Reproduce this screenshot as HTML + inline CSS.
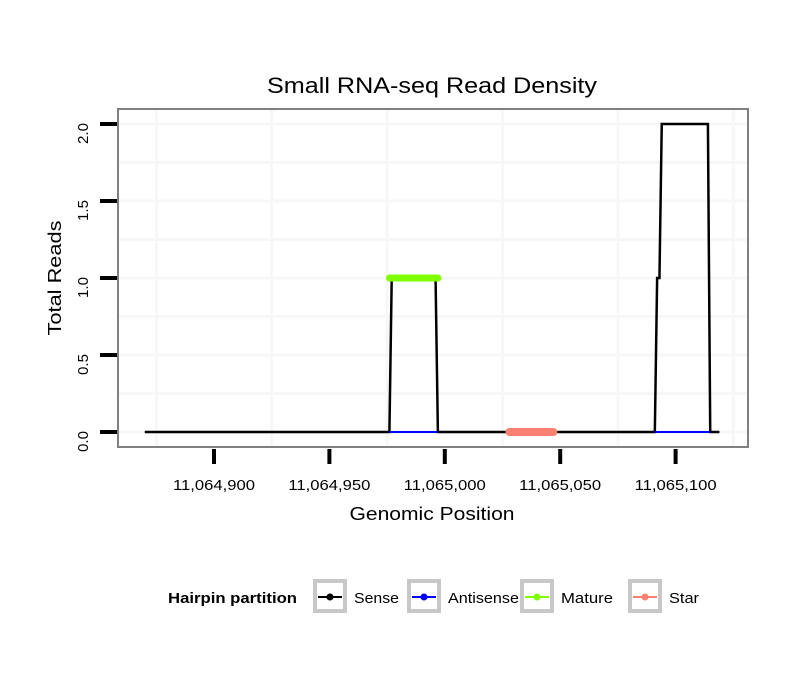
<!DOCTYPE html>
<html><head><meta charset="utf-8"><style>
body{margin:0;background:#fff;}
text{font-family:"Liberation Sans",sans-serif;}
</style></head><body>
<svg id="c" width="810" height="690" xmlns="http://www.w3.org/2000/svg"></svg>
<script>
const xTicks=[11064900,11064950,11065000,11065050,11065100];
const xTickLabels=["11,064,900","11,064,950","11,065,000","11,065,050","11,065,100"];
const yTicks=[0,0.5,1,1.5,2];
const yTickLabels=["0.0","0.5","1.0","1.5","2.0"];
const sensePos=[11064870,11064976,11064977,11064996,11064997,11065091,11065092,11065093,11065094,11065114,11065115,11065119];
const senseVal=[0,0,1,1,0,0,1,1,2,2,0,0];
const antiSegStart=[11064976,11065091];
const antiSegEnd=[11064997,11065115];
const matureStart=[11064976];const matureEnd=[11064997];const matureVal=[1];
const starStart=[11065028];const starEnd=[11065047];const starVal=[0];
const X=p=>214+(p-11064900)*2.308;
const Y=v=>432-v*154;
const svg=document.getElementById('c');const NS="http://www.w3.org/2000/svg";
function mk(t,a,name,p){const e=document.createElementNS(NS,t);for(const k in a)e.setAttribute(k,a[k]);


(p||svg).appendChild(e);return e;}
const LA='spacingAndGlyphs';
mk('rect',{x:117,y:108,width:632,height:340,fill:'#fff'},'plot-panel');
for(let p=11064875;p<=11065125;p+=50){mk('line',{x1:X(p),x2:X(p),y1:109,y2:447,stroke:'#f7f7f7','stroke-width':3},'grid-x');}
for(let v=-0.25;v<=2.25;v+=0.25){const y=Y(v);if(y<109||y>447)continue;mk('line',{x1:118,x2:748,y1:y,y2:y,stroke:'#f7f7f7','stroke-width':3},'grid-y');}
let d=sensePos.map((p,i)=>(i?'L':'M')+X(p)+','+Y(senseVal[i])).join('');
mk('path',{d:d,fill:'none',stroke:'#000','stroke-width':2.5},'sense-line');
antiSegStart.forEach((s,i)=>mk('line',{x1:X(s),x2:X(antiSegEnd[i]),y1:Y(0),y2:Y(0),stroke:'#0000ff','stroke-width':2},'antisense-line'));
matureStart.forEach((s,i)=>mk('line',{x1:X(s),x2:X(matureEnd[i]),y1:Y(matureVal[i]),y2:Y(matureVal[i]),stroke:'#7fff00','stroke-width':7,'stroke-linecap':'round'},'mature-segment'));
starStart.forEach((s,i)=>mk('line',{x1:X(s),x2:X(starEnd[i]),y1:Y(starVal[i]),y2:Y(starVal[i]),stroke:'#fa8072','stroke-width':8,'stroke-linecap':'round'},'star-segment'));
mk('rect',{x:118,y:109,width:630,height:338,fill:'none',stroke:'#808080','stroke-width':2},'panel-border');
xTicks.forEach((p,i)=>{mk('line',{x1:X(p),x2:X(p),y1:449,y2:464,stroke:'#000','stroke-width':4},'x-tick');
const t=mk('text',{x:X(p),y:490,'text-anchor':'middle','font-size':14.5,textLength:82,lengthAdjust:LA},'x-tick-label');t.textContent=xTickLabels[i];});
yTicks.forEach((v,i)=>{mk('line',{x1:100,x2:117,y1:Y(v),y2:Y(v),stroke:'#000','stroke-width':4},'y-tick');
const t=mk('text',{x:0,y:0,'text-anchor':'end','font-size':14.5,textLength:21,lengthAdjust:LA,transform:`translate(88,${Y(v)-1}) rotate(-90)`},'y-tick-label');t.textContent=yTickLabels[i];});
let t=mk('text',{x:432,y:93,'text-anchor':'middle','font-size':22,textLength:330,lengthAdjust:LA},'chart-title');t.textContent='Small RNA-seq Read Density';
t=mk('text',{x:432,y:520,'text-anchor':'middle','font-size':18.5,textLength:165,lengthAdjust:LA},'x-axis-title');t.textContent='Genomic Position';
t=mk('text',{x:0,y:0,'text-anchor':'middle','font-size':18.5,textLength:115,lengthAdjust:LA,transform:'translate(61,278) rotate(-90)'},'y-axis-title');t.textContent='Total Reads';
t=mk('text',{x:168,y:603,'font-size':14.5,'font-weight':'bold',textLength:129,lengthAdjust:LA},'legend-title');t.textContent='Hairpin partition';
const legNames=['Sense','Antisense','Mature','Star'];const legCols=['#000','#0000ff','#7fff00','#fa8072'];const legX=[315,409,522,630];const legW=[45,71,52,30];
legNames.forEach((n,i)=>{const g=mk('g',{},'legend-entry-'+n.toLowerCase());
mk('rect',{x:legX[i],y:581,width:30,height:30,fill:'#fff',stroke:'#c8c8c8','stroke-width':4},'legend-key',g);
mk('line',{x1:legX[i]+3,x2:legX[i]+27,y1:597,y2:597,stroke:legCols[i],'stroke-width':2},'legend-line',g);
mk('circle',{cx:legX[i]+15,cy:597,r:3.5,fill:legCols[i]},'legend-point',g);
const tt=mk('text',{x:legX[i]+39,y:603,'font-size':14.5,textLength:legW[i],lengthAdjust:LA},'legend-label',g);tt.textContent=n;});
</script>
</body></html>
